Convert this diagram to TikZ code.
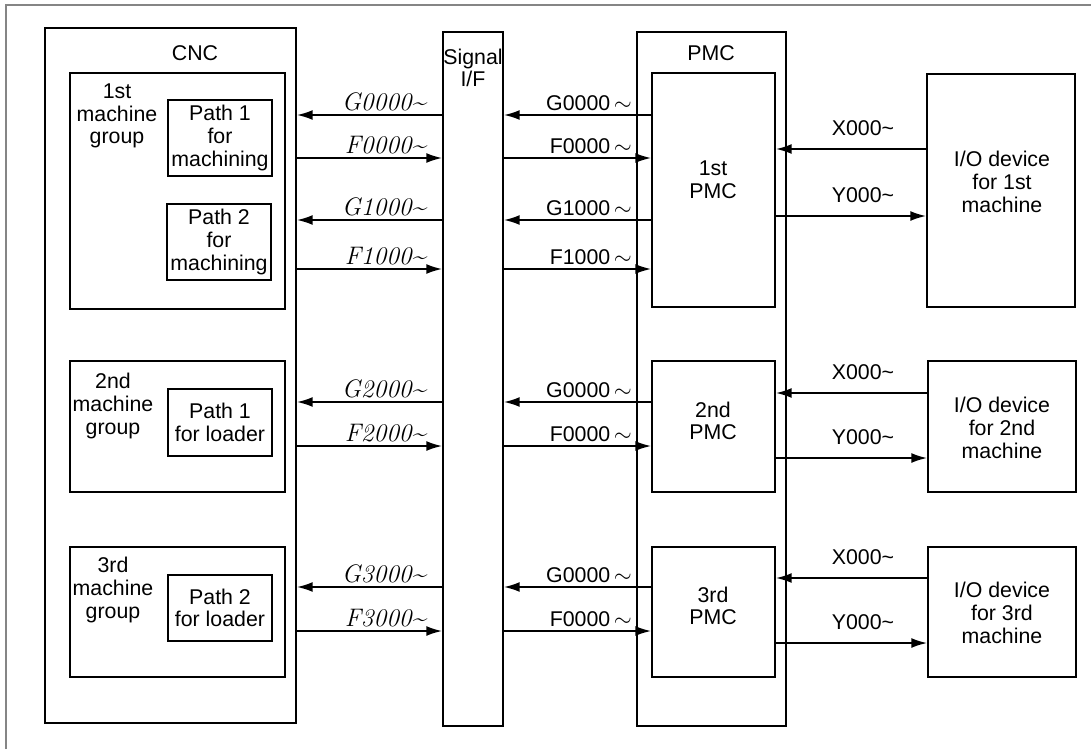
\documentclass[tikz,border=0pt]{standalone}
\usepackage{fontspec}
\newfontfamily\arial{Liberation Sans}
\usetikzlibrary{arrows.meta,fit}
\begin{document}
\begin{tikzpicture}[x=0.75pt,y=-0.75pt,
  box/.style={draw,line width=1.1pt,inner sep=0pt},
  sans/.style={font=\arial\fontsize{16}{17}\selectfont,align=center,inner sep=0pt},
  ital/.style={font=\itshape\fontsize{19}{20}\selectfont,inner sep=0pt},
  arr/.style={line width=1.5pt,-{Latex[length=12pt,width=7.5pt]}}]
\useasboundingbox (0,0) rectangle (1091,749);
% frame
\draw[line width=1.5pt,color=black!48] (6,749) -- (6,5) -- (1091,5);
% main boxes
\node[box,fit={(45,28) (296,723)}] (cnc) {};
\node[box,fit={(443,32) (503,726)}] (sig) {};
\node[box,fit={(637,32) (786,726)}] (pmc) {};
\node[sans] (cnct) at (195,53) {CNC};
\node[sans] (sigt) at (473,68) {Signal\\I/F};
\node[sans] (pmct) at (711,53) {PMC};
% CNC groups
\node[box,fit={(70,73) (285,309)}] (g1) {};
\node[box,fit={(168,100) (272,176)}] (p11) {};
\node[box,fit={(167,204) (271,280)}] (p12) {};
\node[box,fit={(70,361) (285,492)}] (g2) {};
\node[box,fit={(168,389) (272,456)}] (p21) {};
\node[box,fit={(70,547) (285,677)}] (g3) {};
\node[box,fit={(168,575) (272,641)}] (p32) {};
\node[sans] (g1t) at (117,116) {1st\\machine\\group};
\node[sans] (p11t) at (p11.center) {Path 1\\for\\machining};
\node[sans] (p12t) at (p12.center) {Path 2\\for\\machining};
\node[sans] (g2t) at (113,406) {2nd\\machine\\group};
\node[sans] (p21t) at (p21.center) {Path 1\\for loader};
\node[sans] (g3t) at (113,590) {3rd\\machine\\group};
\node[sans] (p32t) at (p32.center) {Path 2\\for loader};
% PMCs
\node[box,fit={(652,73) (775,307)}] (pmc1) {};
\node[box,fit={(652,361) (775,492)}] (pmc2) {};
\node[box,fit={(652,547) (775,677)}] (pmc3) {};
\node[sans] (pmc1t) at (713,180) {1st\\PMC};
\node[sans] (pmc2t) at (713,421) {2nd\\PMC};
\node[sans] (pmc3t) at (713,606) {3rd\\PMC};
% IO devices
\node[box,fit={(927,74) (1075,307)}] (io1) {};
\node[box,fit={(928,361) (1076,492)}] (io2) {};
\node[box,fit={(928,547) (1076,677)}] (io3) {};
\node[sans] (io1t) at (1002,182) {I/O device\\for 1st\\machine};
\node[sans] (io2t) at (1002,428) {I/O device\\for 2nd\\machine};
\node[sans] (io3t) at (1002,613) {I/O device\\for 3rd\\machine};
% CNC <-> Signal I/F
\foreach \y/\lab/\dir in {115/G0000/l,158/F0000/r,220/G1000/l,269/F1000/r,402/G2000/l,446/F2000/r,587/G3000/l,631/F3000/r}{
  \if\dir l
    \draw[arr] (sig.west |- 0,\y) -- (cnc.east |- 0,\y);
  \else
    \draw[arr] (cnc.east |- 0,\y) -- (sig.west |- 0,\y);
  \fi
  \node[ital,anchor=south east] at (426,\y-4) {\lab\textasciitilde};
}
% Signal I/F <-> PMCs
\foreach \y/\lab/\dir/\p in {115/G0000/l/pmc1,158/F0000/r/pmc1,220/G1000/l/pmc1,269/F1000/r/pmc1,402/G0000/l/pmc2,446/F0000/r/pmc2,587/G0000/l/pmc3,631/F0000/r/pmc3}{
  \if\dir l
    \draw[arr] (\p.west |- 0,\y) -- (sig.east |- 0,\y);
  \else
    \draw[arr] (sig.east |- 0,\y) -- (\p.west |- 0,\y);
  \fi
  \node[sans,anchor=south east] at (632,\y-4) {\lab\,$\sim$};
}
% PMC <-> IO
\foreach \yx/\yy/\p/\io in {149/216/pmc1/io1,393/458/pmc2/io2,578/643/pmc3/io3}{
  \draw[arr] (\io.west |- 0,\yx) -- (\p.east |- 0,\yx);
  \draw[arr] (\p.east |- 0,\yy) -- (\io.west |- 0,\yy);
  \node[sans,anchor=south] at (863,\yx-13) {X000\textasciitilde};
  \node[sans,anchor=south] at (863,\yy-13) {Y000\textasciitilde};
}
\end{tikzpicture}
\end{document}
